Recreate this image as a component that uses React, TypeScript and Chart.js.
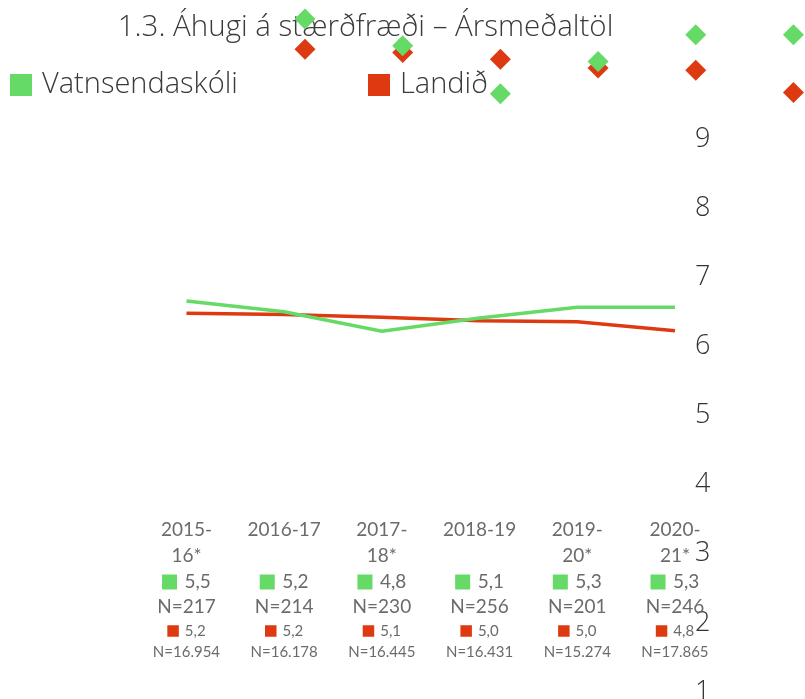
import React, { useEffect, useRef } from 'react';
import { Chart, registerables } from 'chart.js';

Chart.register(...registerables);

const chartTitle = '1.3. Áhugi á stærðfræði – Ársmeðaltöl';
const seriesNames = ['Vatnsendaskóli', 'Landið'];
const seriesColors = ['#66DA66', '#DE3A12'];
const yearLabels = [['2015-', '16*'], ['2016-17'], ['2017-', '18*'], ['2018-19'], ['2019-', '20*'], ['2020-', '21*']];
const schoolMeans = [5.46, 5.22, 4.79, 5.08, 5.32, 5.32];
const countryMeans = [5.19, 5.16, 5.1, 5.02, 5.0, 4.8];
const schoolN = [217, 214, 230, 256, 201, 246];
const countryN = [16954, 16178, 16445, 16431, 15274, 17865];
const axisMin = 1;
const axisMax = 9;

const fmtMean = (v: number) => v.toFixed(1).replace('.', ',');
const fmtN = (n: number) => String(n).replace(/\B(?=(\d{3})+(?!\d))/g, '.');

const textGray = '#6b6b6b';
const darkText = '#3a3a3a';
const LABEL_FONT = 'Lato';
const MAIN_FONT = '"Open Sans"';

function swatchText(ctx: CanvasRenderingContext2D, cx: number, cy: number, size: number, gap: number, color: string, text: string, font: string) {
  ctx.font = font;
  const w = ctx.measureText(text).width;
  const total = size + gap + w;
  const x0 = cx - total / 2;
  ctx.fillStyle = color;
  ctx.fillRect(x0, cy - size / 2, size, size);
  ctx.fillStyle = textGray;
  ctx.textAlign = 'left';
  ctx.fillText(text, x0 + size + gap, cy);
}

const labelsPlugin = {
  id: 'customLabels',
  beforeDatasetsDraw(chart: any) {
    const ctx: CanvasRenderingContext2D = chart.ctx;
    const xs = chart.scales.x;
    ctx.save();
    ctx.textBaseline = 'middle';
    // legend
    ctx.font = `300 29px ${MAIN_FONT}`;
    seriesNames.forEach((name, i) => {
      const x0 = 10 + i * 358;
      ctx.fillStyle = seriesColors[i];
      ctx.fillRect(x0, 74, 22, 22);
      ctx.fillStyle = darkText;
      ctx.textAlign = 'left';
      ctx.fillText(name, x0 + 32, 85);
    });
    // category labels
    yearLabels.forEach((lines, i) => {
      const cx = xs.getPixelForValue(i);
      ctx.fillStyle = textGray;
      ctx.textAlign = 'center';
      ctx.font = `19px ${LABEL_FONT}`;
      lines.forEach((t, j) => ctx.fillText(t, cx, 530 + j * 26));
      swatchText(ctx, cx, 582, 15, 7.5, seriesColors[0], fmtMean(schoolMeans[i]), `19px ${LABEL_FONT}`);
      ctx.textAlign = 'center';
      ctx.font = `19px ${LABEL_FONT}`;
      ctx.fillText('N=' + schoolN[i], cx, 607);
      swatchText(ctx, cx, 631, 11.5, 6, seriesColors[1], fmtMean(countryMeans[i]), `15px ${LABEL_FONT}`);
      ctx.textAlign = 'center';
      ctx.font = `15px ${LABEL_FONT}`;
      ctx.fillText('N=' + fmtN(countryN[i]), cx, 652);
    });
    ctx.restore();
  },
};

export default function App() {
  const canvasRef = useRef<HTMLCanvasElement | null>(null);

  useEffect(() => {
    if (!canvasRef.current) return;
    const toPts = (arr: number[]) => arr.map((v, i) => ({ x: i, y: v }));
    const lineDs = (k: number) => ({
      label: seriesNames[k],
      data: toPts(k === 0 ? schoolMeans : countryMeans),
      borderColor: seriesColors[k],
      backgroundColor: seriesColors[k],
      borderWidth: 3.5,
      pointRadius: 0,
      pointHoverRadius: 0,
      tension: 0,
      xAxisID: 'x',
      yAxisID: 'yL',
    });
    const diamondDs = (k: number) => ({
      label: seriesNames[k],
      // listed last-to-first so every point is laid out, even past the axis end
      data: toPts(k === 0 ? schoolMeans : countryMeans).reverse(),
      showLine: false,
      pointStyle: 'rectRot',
      pointRadius: 10.5,
      pointHoverRadius: 140,
      pointBorderWidth: 0,
      pointBackgroundColor: seriesColors[k],
      borderColor: seriesColors[k],
      clip: false,
      xAxisID: 'x2',
      yAxisID: 'yD',
    });
    const chart = new Chart(canvasRef.current, {
      type: 'line',
      data: {
        datasets: [lineDs(0), lineDs(1), diamondDs(0), diamondDs(1)],
      },
      options: {
        responsive: false,
        animation: false,
        events: [],
        layout: { autoPadding: false, padding: { left: 45, top: 0, right: 0, bottom: 7 } },
        plugins: {
          legend: { display: false },
          tooltip: { enabled: false },
          title: {
            display: true,
            text: chartTitle,
            fullSize: false,
            color: darkText,
            font: { family: MAIN_FONT, size: 29.5, weight: '300', lineHeight: 1.2 },
            padding: { top: 10.3, bottom: 93.3 },
          },
        },
        scales: {
          x: { type: 'linear', min: -1.448, max: 5.113, display: false },
          x2: { type: 'linear', min: -2.661, max: 3.9, display: false },
          yL: { type: 'linear', min: -3.229, max: 9.06, display: false },
          yD: { type: 'linear', min: -0.576, max: 4.384, display: false },
          yR: {
            type: 'linear',
            position: 'right',
            min: axisMin,
            max: axisMax,
            grid: { display: false, drawTicks: true, tickLength: 9 },
            border: { display: false },
            ticks: {
              stepSize: 1,
              padding: 0,
              color: '#333333',
              font: { family: MAIN_FONT, size: 27, weight: '300', lineHeight: 0.5 },
            },
            afterFit: (s: any) => {
              s.width = 119;
            },
          },
        },
      } as any,
      plugins: [labelsPlugin],
    });
    return () => chart.destroy();
  }, []);

  return (
    <div style={{ position: 'fixed', left: 0, top: 0, width: 805, height: 699, background: '#fff' }}>
      <canvas ref={canvasRef} width={805} height={699} style={{ display: 'block' }} />
    </div>
  );
}
